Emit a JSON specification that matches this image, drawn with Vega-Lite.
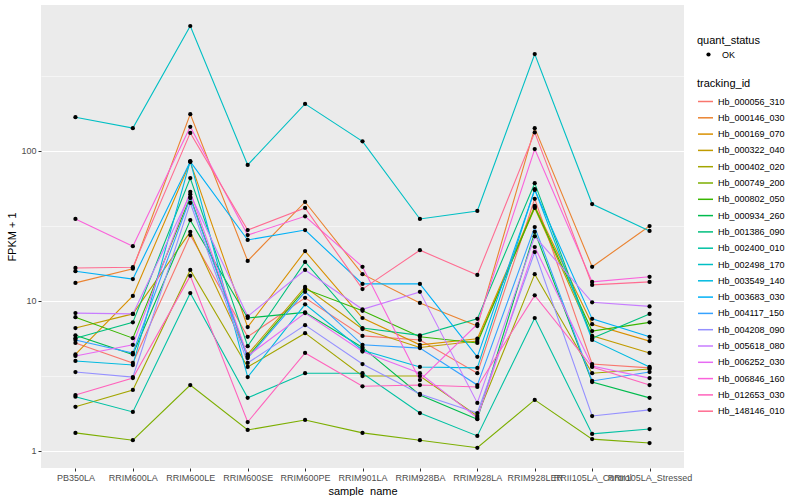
{
"$schema": "https://vega.github.io/schema/vega-lite/v6.json",
"width": 643, "height": 463,
"padding": {"left": 6, "top": 5, "right": 0, "bottom": 0},
"background": "white",
"config": {
  "font": "Liberation Sans",
  "view": {"fill": "#EBEBEB", "stroke": null},
  "axis": {"domain": false, "gridColor": "white", "tickColor": "#333333", "tickSize": 3, "labelPadding": 2, "labelFontSize": 9, "labelColor": "#4D4D4D", "titleFontSize": 11, "titleFontWeight": "normal", "titleColor": "black"},
  "legend": {"titleFontSize": 11, "titleFontWeight": "normal", "titleColor": "black", "labelFontSize": 9, "labelColor": "black", "titlePadding": 4}
},
"data": {"values": [
{"tracking_id":"Hb_000056_310","sample_name":"PB350LA","fpkm":5.25,"quant_status":"OK"},
{"tracking_id":"Hb_000056_310","sample_name":"RRIM600LA","fpkm":3.86,"quant_status":"OK"},
{"tracking_id":"Hb_000056_310","sample_name":"RRIM600LE","fpkm":27.5,"quant_status":"OK"},
{"tracking_id":"Hb_000056_310","sample_name":"RRIM600SE","fpkm":5.77,"quant_status":"OK"},
{"tracking_id":"Hb_000056_310","sample_name":"RRIM600PE","fpkm":10.5,"quant_status":"OK"},
{"tracking_id":"Hb_000056_310","sample_name":"RRIM901LA","fpkm":5.85,"quant_status":"OK"},
{"tracking_id":"Hb_000056_310","sample_name":"RRIM928BA","fpkm":5.5,"quant_status":"OK"},
{"tracking_id":"Hb_000056_310","sample_name":"RRIM928LA","fpkm":3.3,"quant_status":"OK"},
{"tracking_id":"Hb_000056_310","sample_name":"RRIM928LER","fpkm":48,"quant_status":"OK"},
{"tracking_id":"Hb_000056_310","sample_name":"RRII105LA_Control","fpkm":3.8,"quant_status":"OK"},
{"tracking_id":"Hb_000056_310","sample_name":"RRII105LA_Stressed","fpkm":3.58,"quant_status":"OK"},
{"tracking_id":"Hb_000146_030","sample_name":"PB350LA","fpkm":13.2,"quant_status":"OK"},
{"tracking_id":"Hb_000146_030","sample_name":"RRIM600LA","fpkm":16.4,"quant_status":"OK"},
{"tracking_id":"Hb_000146_030","sample_name":"RRIM600LE","fpkm":176,"quant_status":"OK"},
{"tracking_id":"Hb_000146_030","sample_name":"RRIM600SE","fpkm":18.5,"quant_status":"OK"},
{"tracking_id":"Hb_000146_030","sample_name":"RRIM600PE","fpkm":45.7,"quant_status":"OK"},
{"tracking_id":"Hb_000146_030","sample_name":"RRIM901LA","fpkm":15.1,"quant_status":"OK"},
{"tracking_id":"Hb_000146_030","sample_name":"RRIM928BA","fpkm":9.7,"quant_status":"OK"},
{"tracking_id":"Hb_000146_030","sample_name":"RRIM928LA","fpkm":6.8,"quant_status":"OK"},
{"tracking_id":"Hb_000146_030","sample_name":"RRIM928LER","fpkm":142,"quant_status":"OK"},
{"tracking_id":"Hb_000146_030","sample_name":"RRII105LA_Control","fpkm":16.9,"quant_status":"OK"},
{"tracking_id":"Hb_000146_030","sample_name":"RRII105LA_Stressed","fpkm":31.6,"quant_status":"OK"},
{"tracking_id":"Hb_000169_070","sample_name":"PB350LA","fpkm":4.4,"quant_status":"OK"},
{"tracking_id":"Hb_000169_070","sample_name":"RRIM600LA","fpkm":10.8,"quant_status":"OK"},
{"tracking_id":"Hb_000169_070","sample_name":"RRIM600LE","fpkm":84.5,"quant_status":"OK"},
{"tracking_id":"Hb_000169_070","sample_name":"RRIM600SE","fpkm":6.7,"quant_status":"OK"},
{"tracking_id":"Hb_000169_070","sample_name":"RRIM600PE","fpkm":21.5,"quant_status":"OK"},
{"tracking_id":"Hb_000169_070","sample_name":"RRIM901LA","fpkm":7.7,"quant_status":"OK"},
{"tracking_id":"Hb_000169_070","sample_name":"RRIM928BA","fpkm":5.1,"quant_status":"OK"},
{"tracking_id":"Hb_000169_070","sample_name":"RRIM928LA","fpkm":5.6,"quant_status":"OK"},
{"tracking_id":"Hb_000169_070","sample_name":"RRIM928LER","fpkm":43,"quant_status":"OK"},
{"tracking_id":"Hb_000169_070","sample_name":"RRII105LA_Control","fpkm":7.0,"quant_status":"OK"},
{"tracking_id":"Hb_000169_070","sample_name":"RRII105LA_Stressed","fpkm":5.4,"quant_status":"OK"},
{"tracking_id":"Hb_000322_040","sample_name":"PB350LA","fpkm":6.6,"quant_status":"OK"},
{"tracking_id":"Hb_000322_040","sample_name":"RRIM600LA","fpkm":8.2,"quant_status":"OK"},
{"tracking_id":"Hb_000322_040","sample_name":"RRIM600LE","fpkm":28.9,"quant_status":"OK"},
{"tracking_id":"Hb_000322_040","sample_name":"RRIM600SE","fpkm":4.4,"quant_status":"OK"},
{"tracking_id":"Hb_000322_040","sample_name":"RRIM600PE","fpkm":12.4,"quant_status":"OK"},
{"tracking_id":"Hb_000322_040","sample_name":"RRIM901LA","fpkm":6.5,"quant_status":"OK"},
{"tracking_id":"Hb_000322_040","sample_name":"RRIM928BA","fpkm":4.9,"quant_status":"OK"},
{"tracking_id":"Hb_000322_040","sample_name":"RRIM928LA","fpkm":5.4,"quant_status":"OK"},
{"tracking_id":"Hb_000322_040","sample_name":"RRIM928LER","fpkm":41.7,"quant_status":"OK"},
{"tracking_id":"Hb_000322_040","sample_name":"RRII105LA_Control","fpkm":5.85,"quant_status":"OK"},
{"tracking_id":"Hb_000322_040","sample_name":"RRII105LA_Stressed","fpkm":4.5,"quant_status":"OK"},
{"tracking_id":"Hb_000402_020","sample_name":"PB350LA","fpkm":1.97,"quant_status":"OK"},
{"tracking_id":"Hb_000402_020","sample_name":"RRIM600LA","fpkm":2.55,"quant_status":"OK"},
{"tracking_id":"Hb_000402_020","sample_name":"RRIM600LE","fpkm":16.1,"quant_status":"OK"},
{"tracking_id":"Hb_000402_020","sample_name":"RRIM600SE","fpkm":3.63,"quant_status":"OK"},
{"tracking_id":"Hb_000402_020","sample_name":"RRIM600PE","fpkm":6.1,"quant_status":"OK"},
{"tracking_id":"Hb_000402_020","sample_name":"RRIM901LA","fpkm":3.16,"quant_status":"OK"},
{"tracking_id":"Hb_000402_020","sample_name":"RRIM928BA","fpkm":3.16,"quant_status":"OK"},
{"tracking_id":"Hb_000402_020","sample_name":"RRIM928LA","fpkm":1.71,"quant_status":"OK"},
{"tracking_id":"Hb_000402_020","sample_name":"RRIM928LER","fpkm":15.1,"quant_status":"OK"},
{"tracking_id":"Hb_000402_020","sample_name":"RRII105LA_Control","fpkm":3.3,"quant_status":"OK"},
{"tracking_id":"Hb_000402_020","sample_name":"RRII105LA_Stressed","fpkm":3.52,"quant_status":"OK"},
{"tracking_id":"Hb_000749_200","sample_name":"PB350LA","fpkm":1.32,"quant_status":"OK"},
{"tracking_id":"Hb_000749_200","sample_name":"RRIM600LA","fpkm":1.18,"quant_status":"OK"},
{"tracking_id":"Hb_000749_200","sample_name":"RRIM600LE","fpkm":2.75,"quant_status":"OK"},
{"tracking_id":"Hb_000749_200","sample_name":"RRIM600SE","fpkm":1.38,"quant_status":"OK"},
{"tracking_id":"Hb_000749_200","sample_name":"RRIM600PE","fpkm":1.61,"quant_status":"OK"},
{"tracking_id":"Hb_000749_200","sample_name":"RRIM901LA","fpkm":1.32,"quant_status":"OK"},
{"tracking_id":"Hb_000749_200","sample_name":"RRIM928BA","fpkm":1.18,"quant_status":"OK"},
{"tracking_id":"Hb_000749_200","sample_name":"RRIM928LA","fpkm":1.05,"quant_status":"OK"},
{"tracking_id":"Hb_000749_200","sample_name":"RRIM928LER","fpkm":2.19,"quant_status":"OK"},
{"tracking_id":"Hb_000749_200","sample_name":"RRII105LA_Control","fpkm":1.2,"quant_status":"OK"},
{"tracking_id":"Hb_000749_200","sample_name":"RRII105LA_Stressed","fpkm":1.13,"quant_status":"OK"},
{"tracking_id":"Hb_000802_050","sample_name":"PB350LA","fpkm":7.8,"quant_status":"OK"},
{"tracking_id":"Hb_000802_050","sample_name":"RRIM600LA","fpkm":5.65,"quant_status":"OK"},
{"tracking_id":"Hb_000802_050","sample_name":"RRIM600LE","fpkm":49.3,"quant_status":"OK"},
{"tracking_id":"Hb_000802_050","sample_name":"RRIM600SE","fpkm":4.24,"quant_status":"OK"},
{"tracking_id":"Hb_000802_050","sample_name":"RRIM600PE","fpkm":12.0,"quant_status":"OK"},
{"tracking_id":"Hb_000802_050","sample_name":"RRIM901LA","fpkm":8.6,"quant_status":"OK"},
{"tracking_id":"Hb_000802_050","sample_name":"RRIM928BA","fpkm":5.77,"quant_status":"OK"},
{"tracking_id":"Hb_000802_050","sample_name":"RRIM928LA","fpkm":5.25,"quant_status":"OK"},
{"tracking_id":"Hb_000802_050","sample_name":"RRIM928LER","fpkm":42.3,"quant_status":"OK"},
{"tracking_id":"Hb_000802_050","sample_name":"RRII105LA_Control","fpkm":6.3,"quant_status":"OK"},
{"tracking_id":"Hb_000802_050","sample_name":"RRII105LA_Stressed","fpkm":7.2,"quant_status":"OK"},
{"tracking_id":"Hb_000934_260","sample_name":"PB350LA","fpkm":5.9,"quant_status":"OK"},
{"tracking_id":"Hb_000934_260","sample_name":"RRIM600LA","fpkm":4.4,"quant_status":"OK"},
{"tracking_id":"Hb_000934_260","sample_name":"RRIM600LE","fpkm":34.6,"quant_status":"OK"},
{"tracking_id":"Hb_000934_260","sample_name":"RRIM600SE","fpkm":7.7,"quant_status":"OK"},
{"tracking_id":"Hb_000934_260","sample_name":"RRIM600PE","fpkm":8.4,"quant_status":"OK"},
{"tracking_id":"Hb_000934_260","sample_name":"RRIM901LA","fpkm":4.9,"quant_status":"OK"},
{"tracking_id":"Hb_000934_260","sample_name":"RRIM928BA","fpkm":2.36,"quant_status":"OK"},
{"tracking_id":"Hb_000934_260","sample_name":"RRIM928LA","fpkm":1.63,"quant_status":"OK"},
{"tracking_id":"Hb_000934_260","sample_name":"RRIM928LER","fpkm":28.9,"quant_status":"OK"},
{"tracking_id":"Hb_000934_260","sample_name":"RRII105LA_Control","fpkm":2.88,"quant_status":"OK"},
{"tracking_id":"Hb_000934_260","sample_name":"RRII105LA_Stressed","fpkm":2.26,"quant_status":"OK"},
{"tracking_id":"Hb_001386_090","sample_name":"PB350LA","fpkm":5.65,"quant_status":"OK"},
{"tracking_id":"Hb_001386_090","sample_name":"RRIM600LA","fpkm":7.2,"quant_status":"OK"},
{"tracking_id":"Hb_001386_090","sample_name":"RRIM600LE","fpkm":66,"quant_status":"OK"},
{"tracking_id":"Hb_001386_090","sample_name":"RRIM600SE","fpkm":5.0,"quant_status":"OK"},
{"tracking_id":"Hb_001386_090","sample_name":"RRIM600PE","fpkm":18.2,"quant_status":"OK"},
{"tracking_id":"Hb_001386_090","sample_name":"RRIM901LA","fpkm":6.6,"quant_status":"OK"},
{"tracking_id":"Hb_001386_090","sample_name":"RRIM928BA","fpkm":5.9,"quant_status":"OK"},
{"tracking_id":"Hb_001386_090","sample_name":"RRIM928LA","fpkm":7.6,"quant_status":"OK"},
{"tracking_id":"Hb_001386_090","sample_name":"RRIM928LER","fpkm":61,"quant_status":"OK"},
{"tracking_id":"Hb_001386_090","sample_name":"RRII105LA_Control","fpkm":5.65,"quant_status":"OK"},
{"tracking_id":"Hb_001386_090","sample_name":"RRII105LA_Stressed","fpkm":8.2,"quant_status":"OK"},
{"tracking_id":"Hb_002400_010","sample_name":"PB350LA","fpkm":2.3,"quant_status":"OK"},
{"tracking_id":"Hb_002400_010","sample_name":"RRIM600LA","fpkm":1.82,"quant_status":"OK"},
{"tracking_id":"Hb_002400_010","sample_name":"RRIM600LE","fpkm":11.3,"quant_status":"OK"},
{"tracking_id":"Hb_002400_010","sample_name":"RRIM600SE","fpkm":2.26,"quant_status":"OK"},
{"tracking_id":"Hb_002400_010","sample_name":"RRIM600PE","fpkm":3.3,"quant_status":"OK"},
{"tracking_id":"Hb_002400_010","sample_name":"RRIM901LA","fpkm":3.3,"quant_status":"OK"},
{"tracking_id":"Hb_002400_010","sample_name":"RRIM928BA","fpkm":1.79,"quant_status":"OK"},
{"tracking_id":"Hb_002400_010","sample_name":"RRIM928LA","fpkm":1.26,"quant_status":"OK"},
{"tracking_id":"Hb_002400_010","sample_name":"RRIM928LER","fpkm":7.7,"quant_status":"OK"},
{"tracking_id":"Hb_002400_010","sample_name":"RRII105LA_Control","fpkm":1.3,"quant_status":"OK"},
{"tracking_id":"Hb_002400_010","sample_name":"RRII105LA_Stressed","fpkm":1.4,"quant_status":"OK"},
{"tracking_id":"Hb_002498_170","sample_name":"PB350LA","fpkm":168,"quant_status":"OK"},
{"tracking_id":"Hb_002498_170","sample_name":"RRIM600LA","fpkm":142,"quant_status":"OK"},
{"tracking_id":"Hb_002498_170","sample_name":"RRIM600LE","fpkm":681,"quant_status":"OK"},
{"tracking_id":"Hb_002498_170","sample_name":"RRIM600SE","fpkm":80.7,"quant_status":"OK"},
{"tracking_id":"Hb_002498_170","sample_name":"RRIM600PE","fpkm":206,"quant_status":"OK"},
{"tracking_id":"Hb_002498_170","sample_name":"RRIM901LA","fpkm":116,"quant_status":"OK"},
{"tracking_id":"Hb_002498_170","sample_name":"RRIM928BA","fpkm":35.2,"quant_status":"OK"},
{"tracking_id":"Hb_002498_170","sample_name":"RRIM928LA","fpkm":39.8,"quant_status":"OK"},
{"tracking_id":"Hb_002498_170","sample_name":"RRIM928LER","fpkm":443,"quant_status":"OK"},
{"tracking_id":"Hb_002498_170","sample_name":"RRII105LA_Control","fpkm":44.3,"quant_status":"OK"},
{"tracking_id":"Hb_002498_170","sample_name":"RRII105LA_Stressed","fpkm":29.3,"quant_status":"OK"},
{"tracking_id":"Hb_003549_140","sample_name":"PB350LA","fpkm":3.98,"quant_status":"OK"},
{"tracking_id":"Hb_003549_140","sample_name":"RRIM600LA","fpkm":3.74,"quant_status":"OK"},
{"tracking_id":"Hb_003549_140","sample_name":"RRIM600LE","fpkm":85.6,"quant_status":"OK"},
{"tracking_id":"Hb_003549_140","sample_name":"RRIM600SE","fpkm":3.11,"quant_status":"OK"},
{"tracking_id":"Hb_003549_140","sample_name":"RRIM600PE","fpkm":9.5,"quant_status":"OK"},
{"tracking_id":"Hb_003549_140","sample_name":"RRIM901LA","fpkm":4.7,"quant_status":"OK"},
{"tracking_id":"Hb_003549_140","sample_name":"RRIM928BA","fpkm":3.63,"quant_status":"OK"},
{"tracking_id":"Hb_003549_140","sample_name":"RRIM928LA","fpkm":3.58,"quant_status":"OK"},
{"tracking_id":"Hb_003549_140","sample_name":"RRIM928LER","fpkm":55.6,"quant_status":"OK"},
{"tracking_id":"Hb_003549_140","sample_name":"RRII105LA_Control","fpkm":5.5,"quant_status":"OK"},
{"tracking_id":"Hb_003549_140","sample_name":"RRII105LA_Stressed","fpkm":3.63,"quant_status":"OK"},
{"tracking_id":"Hb_003683_030","sample_name":"PB350LA","fpkm":15.8,"quant_status":"OK"},
{"tracking_id":"Hb_003683_030","sample_name":"RRIM600LA","fpkm":14.0,"quant_status":"OK"},
{"tracking_id":"Hb_003683_030","sample_name":"RRIM600LE","fpkm":85,"quant_status":"OK"},
{"tracking_id":"Hb_003683_030","sample_name":"RRIM600SE","fpkm":25.5,"quant_status":"OK"},
{"tracking_id":"Hb_003683_030","sample_name":"RRIM600PE","fpkm":29.7,"quant_status":"OK"},
{"tracking_id":"Hb_003683_030","sample_name":"RRIM901LA","fpkm":13.0,"quant_status":"OK"},
{"tracking_id":"Hb_003683_030","sample_name":"RRIM928BA","fpkm":13.0,"quant_status":"OK"},
{"tracking_id":"Hb_003683_030","sample_name":"RRIM928LA","fpkm":4.24,"quant_status":"OK"},
{"tracking_id":"Hb_003683_030","sample_name":"RRIM928LER","fpkm":55,"quant_status":"OK"},
{"tracking_id":"Hb_003683_030","sample_name":"RRII105LA_Control","fpkm":7.6,"quant_status":"OK"},
{"tracking_id":"Hb_003683_030","sample_name":"RRII105LA_Stressed","fpkm":5.77,"quant_status":"OK"},
{"tracking_id":"Hb_004117_150","sample_name":"PB350LA","fpkm":5.5,"quant_status":"OK"},
{"tracking_id":"Hb_004117_150","sample_name":"RRIM600LA","fpkm":4.5,"quant_status":"OK"},
{"tracking_id":"Hb_004117_150","sample_name":"RRIM600LE","fpkm":48.5,"quant_status":"OK"},
{"tracking_id":"Hb_004117_150","sample_name":"RRIM600SE","fpkm":4.16,"quant_status":"OK"},
{"tracking_id":"Hb_004117_150","sample_name":"RRIM600PE","fpkm":11.5,"quant_status":"OK"},
{"tracking_id":"Hb_004117_150","sample_name":"RRIM901LA","fpkm":5.1,"quant_status":"OK"},
{"tracking_id":"Hb_004117_150","sample_name":"RRIM928BA","fpkm":4.85,"quant_status":"OK"},
{"tracking_id":"Hb_004117_150","sample_name":"RRIM928LA","fpkm":2.75,"quant_status":"OK"},
{"tracking_id":"Hb_004117_150","sample_name":"RRIM928LER","fpkm":31.1,"quant_status":"OK"},
{"tracking_id":"Hb_004117_150","sample_name":"RRII105LA_Control","fpkm":2.93,"quant_status":"OK"},
{"tracking_id":"Hb_004117_150","sample_name":"RRII105LA_Stressed","fpkm":3.36,"quant_status":"OK"},
{"tracking_id":"Hb_004208_090","sample_name":"PB350LA","fpkm":3.36,"quant_status":"OK"},
{"tracking_id":"Hb_004208_090","sample_name":"RRIM600LA","fpkm":3.11,"quant_status":"OK"},
{"tracking_id":"Hb_004208_090","sample_name":"RRIM600LE","fpkm":45,"quant_status":"OK"},
{"tracking_id":"Hb_004208_090","sample_name":"RRIM600SE","fpkm":3.86,"quant_status":"OK"},
{"tracking_id":"Hb_004208_090","sample_name":"RRIM600PE","fpkm":6.9,"quant_status":"OK"},
{"tracking_id":"Hb_004208_090","sample_name":"RRIM901LA","fpkm":3.8,"quant_status":"OK"},
{"tracking_id":"Hb_004208_090","sample_name":"RRIM928BA","fpkm":2.4,"quant_status":"OK"},
{"tracking_id":"Hb_004208_090","sample_name":"RRIM928LA","fpkm":1.79,"quant_status":"OK"},
{"tracking_id":"Hb_004208_090","sample_name":"RRIM928LER","fpkm":21.2,"quant_status":"OK"},
{"tracking_id":"Hb_004208_090","sample_name":"RRII105LA_Control","fpkm":1.71,"quant_status":"OK"},
{"tracking_id":"Hb_004208_090","sample_name":"RRII105LA_Stressed","fpkm":1.88,"quant_status":"OK"},
{"tracking_id":"Hb_005618_080","sample_name":"PB350LA","fpkm":8.3,"quant_status":"OK"},
{"tracking_id":"Hb_005618_080","sample_name":"RRIM600LA","fpkm":8.2,"quant_status":"OK"},
{"tracking_id":"Hb_005618_080","sample_name":"RRIM600LE","fpkm":51.5,"quant_status":"OK"},
{"tracking_id":"Hb_005618_080","sample_name":"RRIM600SE","fpkm":7.9,"quant_status":"OK"},
{"tracking_id":"Hb_005618_080","sample_name":"RRIM600PE","fpkm":16.1,"quant_status":"OK"},
{"tracking_id":"Hb_005618_080","sample_name":"RRIM901LA","fpkm":8.8,"quant_status":"OK"},
{"tracking_id":"Hb_005618_080","sample_name":"RRIM928BA","fpkm":11.5,"quant_status":"OK"},
{"tracking_id":"Hb_005618_080","sample_name":"RRIM928LA","fpkm":2.09,"quant_status":"OK"},
{"tracking_id":"Hb_005618_080","sample_name":"RRIM928LER","fpkm":27,"quant_status":"OK"},
{"tracking_id":"Hb_005618_080","sample_name":"RRII105LA_Control","fpkm":9.8,"quant_status":"OK"},
{"tracking_id":"Hb_005618_080","sample_name":"RRII105LA_Stressed","fpkm":9.2,"quant_status":"OK"},
{"tracking_id":"Hb_006252_030","sample_name":"PB350LA","fpkm":4.3,"quant_status":"OK"},
{"tracking_id":"Hb_006252_030","sample_name":"RRIM600LA","fpkm":5.1,"quant_status":"OK"},
{"tracking_id":"Hb_006252_030","sample_name":"RRIM600LE","fpkm":53.4,"quant_status":"OK"},
{"tracking_id":"Hb_006252_030","sample_name":"RRIM600SE","fpkm":4.3,"quant_status":"OK"},
{"tracking_id":"Hb_006252_030","sample_name":"RRIM600PE","fpkm":8.3,"quant_status":"OK"},
{"tracking_id":"Hb_006252_030","sample_name":"RRIM901LA","fpkm":4.6,"quant_status":"OK"},
{"tracking_id":"Hb_006252_030","sample_name":"RRIM928BA","fpkm":3.3,"quant_status":"OK"},
{"tracking_id":"Hb_006252_030","sample_name":"RRIM928LA","fpkm":1.66,"quant_status":"OK"},
{"tracking_id":"Hb_006252_030","sample_name":"RRIM928LER","fpkm":22.9,"quant_status":"OK"},
{"tracking_id":"Hb_006252_030","sample_name":"RRII105LA_Control","fpkm":3.68,"quant_status":"OK"},
{"tracking_id":"Hb_006252_030","sample_name":"RRII105LA_Stressed","fpkm":3.06,"quant_status":"OK"},
{"tracking_id":"Hb_006846_160","sample_name":"PB350LA","fpkm":35.2,"quant_status":"OK"},
{"tracking_id":"Hb_006846_160","sample_name":"RRIM600LA","fpkm":23.2,"quant_status":"OK"},
{"tracking_id":"Hb_006846_160","sample_name":"RRIM600LE","fpkm":145,"quant_status":"OK"},
{"tracking_id":"Hb_006846_160","sample_name":"RRIM600SE","fpkm":27.5,"quant_status":"OK"},
{"tracking_id":"Hb_006846_160","sample_name":"RRIM600PE","fpkm":36.7,"quant_status":"OK"},
{"tracking_id":"Hb_006846_160","sample_name":"RRIM901LA","fpkm":16.9,"quant_status":"OK"},
{"tracking_id":"Hb_006846_160","sample_name":"RRIM928BA","fpkm":2.97,"quant_status":"OK"},
{"tracking_id":"Hb_006846_160","sample_name":"RRIM928LA","fpkm":7.0,"quant_status":"OK"},
{"tracking_id":"Hb_006846_160","sample_name":"RRIM928LER","fpkm":103,"quant_status":"OK"},
{"tracking_id":"Hb_006846_160","sample_name":"RRII105LA_Control","fpkm":13.4,"quant_status":"OK"},
{"tracking_id":"Hb_006846_160","sample_name":"RRII105LA_Stressed","fpkm":14.5,"quant_status":"OK"},
{"tracking_id":"Hb_012653_030","sample_name":"PB350LA","fpkm":2.36,"quant_status":"OK"},
{"tracking_id":"Hb_012653_030","sample_name":"RRIM600LA","fpkm":3.06,"quant_status":"OK"},
{"tracking_id":"Hb_012653_030","sample_name":"RRIM600LE","fpkm":14.7,"quant_status":"OK"},
{"tracking_id":"Hb_012653_030","sample_name":"RRIM600SE","fpkm":1.56,"quant_status":"OK"},
{"tracking_id":"Hb_012653_030","sample_name":"RRIM600PE","fpkm":4.5,"quant_status":"OK"},
{"tracking_id":"Hb_012653_030","sample_name":"RRIM901LA","fpkm":2.7,"quant_status":"OK"},
{"tracking_id":"Hb_012653_030","sample_name":"RRIM928BA","fpkm":2.75,"quant_status":"OK"},
{"tracking_id":"Hb_012653_030","sample_name":"RRIM928LA","fpkm":2.67,"quant_status":"OK"},
{"tracking_id":"Hb_012653_030","sample_name":"RRIM928LER","fpkm":10.9,"quant_status":"OK"},
{"tracking_id":"Hb_012653_030","sample_name":"RRII105LA_Control","fpkm":3.63,"quant_status":"OK"},
{"tracking_id":"Hb_012653_030","sample_name":"RRII105LA_Stressed","fpkm":2.75,"quant_status":"OK"},
{"tracking_id":"Hb_148146_010","sample_name":"PB350LA","fpkm":16.6,"quant_status":"OK"},
{"tracking_id":"Hb_148146_010","sample_name":"RRIM600LA","fpkm":16.8,"quant_status":"OK"},
{"tracking_id":"Hb_148146_010","sample_name":"RRIM600LE","fpkm":132,"quant_status":"OK"},
{"tracking_id":"Hb_148146_010","sample_name":"RRIM600SE","fpkm":29.7,"quant_status":"OK"},
{"tracking_id":"Hb_148146_010","sample_name":"RRIM600PE","fpkm":41.7,"quant_status":"OK"},
{"tracking_id":"Hb_148146_010","sample_name":"RRIM901LA","fpkm":12.0,"quant_status":"OK"},
{"tracking_id":"Hb_148146_010","sample_name":"RRIM928BA","fpkm":21.8,"quant_status":"OK"},
{"tracking_id":"Hb_148146_010","sample_name":"RRIM928LA","fpkm":14.9,"quant_status":"OK"},
{"tracking_id":"Hb_148146_010","sample_name":"RRIM928LER","fpkm":133,"quant_status":"OK"},
{"tracking_id":"Hb_148146_010","sample_name":"RRII105LA_Control","fpkm":12.8,"quant_status":"OK"},
{"tracking_id":"Hb_148146_010","sample_name":"RRII105LA_Stressed","fpkm":13.4,"quant_status":"OK"}
]},
"encoding": {
  "x": {"field": "sample_name", "type": "nominal",
    "sort": ["PB350LA","RRIM600LA","RRIM600LE","RRIM600SE","RRIM600PE","RRIM901LA","RRIM928BA","RRIM928LA","RRIM928LER","RRII105LA_Control","RRII105LA_Stressed"],
    "scale": {"type": "point", "padding": 0.6},
    "axis": {"title": "sample_name", "labelAngle": 0, "gridWidth": 1.1, "titlePadding": 3, "labelOverlap": false}},
  "y": {"field": "fpkm", "type": "quantitative",
    "scale": {"type": "log", "domain": [0.77, 940], "nice": false, "zero": false},
    "axis": {"title": "FPKM + 1", "values": [1, 3.1623, 10, 31.623, 100, 316.23], "format": "~g",
      "labelExpr": "(datum.value == 1 || datum.value == 10 || datum.value == 100) ? datum.label : ''",
      "gridWidth": {"condition": {"test": "datum.value == 1 || datum.value == 10 || datum.value == 100", "value": 1.1}, "value": 0.5},
      "tickOpacity": {"condition": {"test": "datum.value == 1 || datum.value == 10 || datum.value == 100", "value": 1}, "value": 0},
      "titlePadding": 3}}
},
"layer": [
  {"mark": {"type": "line", "strokeWidth": 1.1},
   "encoding": {
     "color": {"field": "tracking_id", "type": "nominal",
       "scale": {"range": ["#F8766D","#EA8331","#D89000","#C09B00","#A3A500","#7CAE00","#39B600","#00BB4E","#00BF7D","#00C1A3","#00BFC4","#00BAE0","#00B0F6","#35A2FF","#9590FF","#C77CFF","#E76BF3","#FA62DB","#FF62BC","#FF6C91"]},
       "legend": {"title": "tracking_id", "orient": "none", "legendX": 656, "legendY": 73, "symbolType": "stroke", "symbolSize": 225, "symbolStrokeWidth": 1.5, "rowPadding": 2.3, "labelOffset": 4}}
   }},
  {"mark": {"type": "point", "filled": true, "color": "black", "opacity": 1, "size": 18},
   "encoding": {
     "shape": {"field": "quant_status", "type": "nominal", "scale": {"range": ["circle"]},
       "legend": {"title": "quant_status", "orient": "none", "legendX": 656, "legendY": 30, "symbolSize": 18, "symbolFillColor": "black", "symbolStrokeColor": "black", "symbolOffset": 7, "labelOffset": 9}}
   }}
]
}
